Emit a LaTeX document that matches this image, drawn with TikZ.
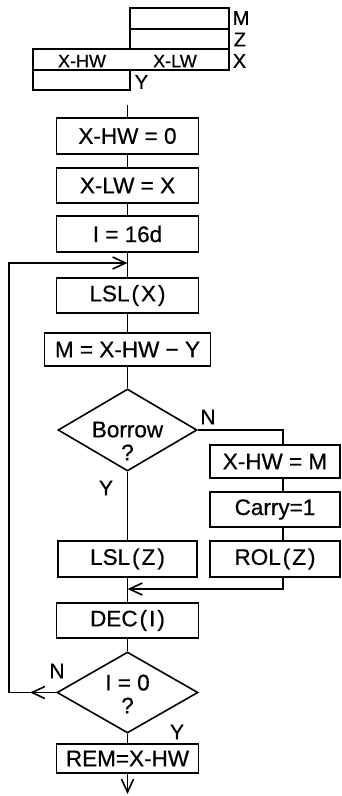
\documentclass[tikz,border=0pt]{standalone}
\usepackage{fontspec}
\setmainfont{Liberation Sans}[AutoFakeBold=0.6]
\usetikzlibrary{shapes.geometric,arrows.meta}
\begin{document}
\begin{tikzpicture}[x=1pt,y=-1pt,
  line width=1.6pt,
  >={Straight Barb[length=13pt,width=12pt]},
  box/.style args={#1/#2}{draw,rectangle,inner sep=0pt,minimum width=#1pt,minimum height=#2pt,font=\fontsize{22.5}{26}\selectfont\bfseries},
  reg/.style args={#1/#2}{draw,rectangle,inner sep=0pt,minimum width=#1pt,minimum height=#2pt},
  dia/.style args={#1/#2}{draw,diamond,inner sep=0pt,minimum width=#1pt,minimum height=#2pt},
  dtext/.style={align=center,inner sep=0pt,font=\fontsize{22.5}{23}\selectfont\bfseries},
  lbl/.style={inner sep=0pt,font=\fontsize{21}{21}\selectfont\bfseries},
  reglbl/.style={inner sep=0pt,anchor=west,font=\fontsize{20}{20}\selectfont\bfseries},
  half/.style={inner sep=0pt,font=\fontsize{18}{18}\selectfont\bfseries}
]
\useasboundingbox (0,0) rectangle (342,796);
% register layout
\node[reg=99/21] (rm) at (179.5,18.5) {};
\node[reg=99/20] (rz) at (179.5,39) {};
\node[reg=196/21] (rx) at (131,59.5) {};
\node[reg=97/20] (ry) at (81.5,80) {};
\node[reglbl] (lm) at (232,18) {M};
\node[reglbl] (lz) at (233,39.5) {Z};
\node[reglbl] (lx) at (232,61) {X};
\node[reglbl] (ly) at (134,82) {Y};
\node[half] (xhw) at (82,61) {X-HW};
\node[half] (xlw) at (175,61) {X-LW};
% main flow
\coordinate (start) at (127.5,105);
\node[box=142/36] (b1) at (127.5,136) {X-HW = 0};
\node[box=142/35] (b2) at (127.5,185.5) {X-LW = X};
\node[box=142/36] (b3) at (127.5,234) {I = 16d};
\coordinate (entry) at (127.5,263);
\node[box=142/35] (b4) at (127.5,295.5) {LSL\kern2pt(\kern2pt X\kern2pt)};
\node[box=166/33] (b5) at (127.5,349.5) {M = X-HW − Y};
\node[dia=139/82] (d1) at (127.5,430) {};
\node[dtext] (d1t) at (127.5,441) {Borrow\\?};
\node[lbl] (n1) at (208,417) {N};
\node[lbl] (y1) at (106,488) {Y};
\node[box=130/33] (r1) at (275,461.5) {X-HW = M};
\node[box=130/35] (r2) at (275,509.5) {Carry=1};
\node[box=130/36] (r3) at (275,559) {ROL\kern2pt(\kern2pt Z\kern2pt)};
\node[box=139/36] (lsz) at (127.5,559) {LSL\kern2pt(\kern2pt Z\kern2pt)};
\coordinate (join) at (127.5,589);
\coordinate (rxl) at (283,0);
\node[box=142/35] (dec) at (127.5,620.5) {DEC\kern2pt(\kern2pt I\kern2pt)};
\node[dia=141/81] (d2) at (127.5,692.5) {};
\node[dtext] (d2t) at (127.5,694) {I = 0\\?};
\node[lbl] (n2) at (57,671) {N};
\node[lbl] (y2) at (177,732) {Y};
\node[box=142/29] (rem) at (127.5,758.5) {REM=X-HW};
\coordinate (fin) at (127.5,794);
\coordinate (lxl) at (9,0);
\coordinate (ntip) at (30,692.5);
% connectors
\draw (start) -- (b1);
\draw (b1) -- (b2);
\draw (b2) -- (b3);
\draw (b3) -- (b4);
\draw (b4) -- (b5);
\draw (b5) -- (d1);
\draw (d1) -- (lsz);
\draw (d1.east) -| (rxl |- r1.north);
\draw (rxl |- r1.south) -- (rxl |- r2.north);
\draw (rxl |- r2.south) -- (rxl |- r3.north);
\draw[->] (rxl |- r3.south) |- (join);
\draw (lsz) -- (dec);
\draw (dec) -- (d2);
\draw (d2) -- (rem);
\draw[->] (rem) -- (fin);
\draw[->] (d2.west) -| (lxl |- entry) -- (entry);
\draw[->] (d2.west) -- (ntip);
\end{tikzpicture}
\end{document}
